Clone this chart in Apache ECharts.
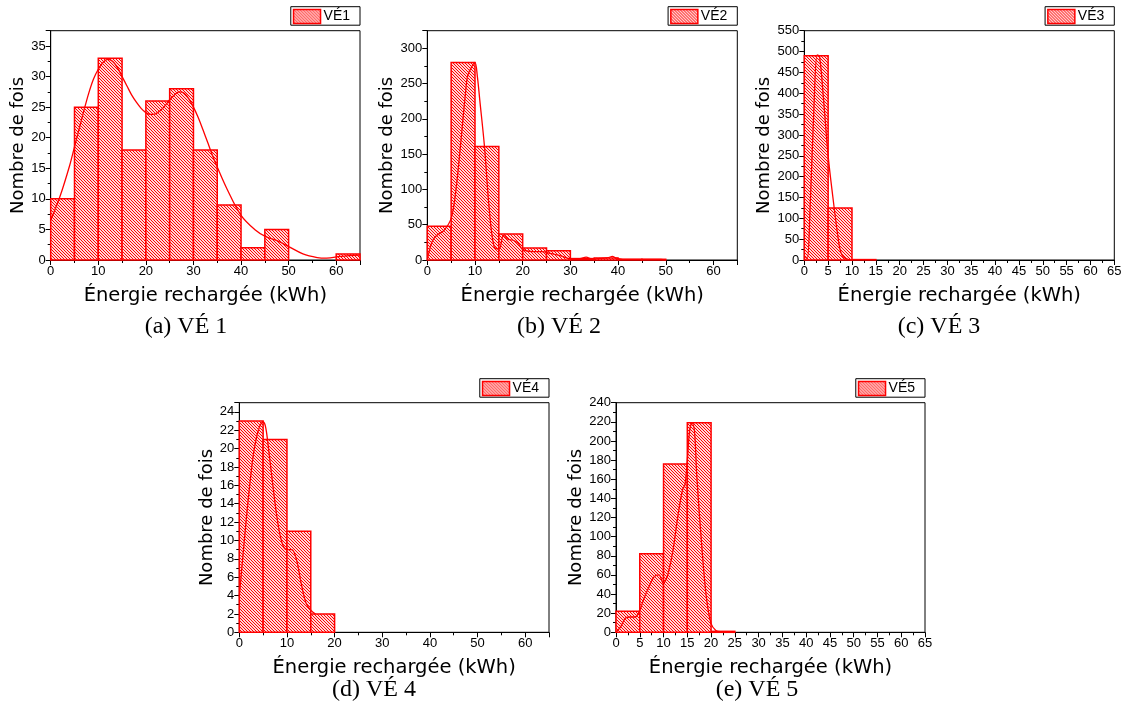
<!DOCTYPE html>
<html>
<head>
<meta charset="utf-8">
<script src="https://cdn.jsdelivr.net/npm/echarts@6/dist/echarts.min.js"></script>
<style>
html,body{margin:0;padding:0;background:#fff;}
#main{width:1129px;height:722px;}
</style>
</head>
<body>
<div id="main"></div>
<script>
// ---------- DATA ----------
const binWidth = 5;
const binStarts = [0, 5, 10, 15, 20, 25, 30, 35, 40, 45, 50, 55, 60];

const ve1Counts = [10, 25, 33, 18, 26, 28, 18, 9, 2, 5, 0, 0, 1];
const ve2Counts = [48, 280, 161, 37, 17, 13, 2, 3, 1, 1, 0, 0, 0];
const ve3Counts = [490, 125, 1, 0, 0, 0, 0, 0, 0, 0, 0, 0, 0];
const ve4Counts = [23, 21, 11, 2, 0, 0, 0, 0, 0, 0, 0, 0, 0];
const ve5Counts = [22, 82, 176, 219, 1, 0, 0, 0, 0, 0, 0, 0, 0];

const ve1CurveX = [0, 2, 4, 5, 6, 7, 8, 9, 10, 11, 12, 13, 14, 15, 16, 17, 18, 19, 20, 21, 22, 23, 24, 25, 26, 27, 28, 29, 30, 31, 32, 33, 34, 35, 37, 40, 43, 45, 48, 50, 53, 56, 58, 61, 65];
const ve1CurveY = [6.5, 10.5, 15.5, 18.5, 21.5, 24.5, 27.3, 29.6, 31.2, 32.3, 32.8, 32.5, 31.5, 30, 28.5, 27, 25.8, 24.8, 24.1, 23.8, 23.9, 24.4, 25.2, 26.2, 27, 27.5, 27.3, 26.4, 25, 23.3, 21.3, 19.2, 17.1, 15.2, 11.7, 7.3, 4.9, 3.9, 3.0, 2.2, 1.0, 0.4, 0.3, 0.6, 0.8];

const ve2CurveX = [0, 1, 2, 3.5, 5, 6, 7, 8, 8.5, 9.5, 10, 10.5, 11, 12, 13, 14, 15, 16, 17, 18, 19, 20, 22, 24, 26, 28, 30, 32, 33.3, 34.5, 36, 38, 38.8, 39.6, 41, 45, 49, 50];
const ve2CurveY = [0, 26, 35, 42, 59, 99, 165, 236, 262, 276, 280, 260, 227, 160, 71, 19, 15, 35, 29, 28, 24, 15, 12, 12, 9, 6, 2, 2, 4, 1.5, 2, 3.5, 5, 2.5, 1, 1, 1, 0];

const ve3CurveX = [0, 0.6, 1.2, 2, 2.7, 3.2, 4, 5, 6, 7, 7.5, 8, 8.6, 9.3, 10];
const ve3CurveY = [10, 3, 120, 360, 492, 488, 390, 250, 150, 60, 25, 10, 4, 1, 0];

const ve4CurveX = [0, 1, 2, 3, 4, 5, 5.5, 6, 7, 8, 9, 10, 11, 12, 13, 14, 15, 16];
const ve4CurveY = [3.9, 9.7, 15.1, 19.5, 22, 22.9, 22.4, 20.6, 16.2, 12.2, 9.7, 9.0, 9.0, 7.9, 5.3, 3.2, 2.4, 2.0];

const ve5CurveX = [0, 1, 2, 3, 4, 5, 6, 7, 8, 9, 10, 10.5, 11, 12, 13, 14, 14.5, 15, 15.5, 16, 16.5, 17, 18, 19, 20, 21, 22, 25];
const ve5CurveY = [0, 6, 15, 16, 16, 23, 37, 48, 58, 60, 51, 55, 62, 86, 121, 149, 154, 180, 211, 219, 211, 163, 93, 37, 9, 2, 0.7, 0.5];

const seriesNames = ['VÉ1', 'VÉ2', 'VÉ3', 'VÉ4', 'VÉ5'];
const captions = ['(a) VÉ 1', '(b) VÉ 2', '(c) VÉ 3', '(d) VÉ 4', '(e) VÉ 5'];
const xAxisTitle = 'Énergie rechargée (kWh)';
const yAxisTitle = 'Nombre de fois';

// ---------- STYLE / LAYOUT ----------
const allCounts = [ve1Counts, ve2Counts, ve3Counts, ve4Counts, ve5Counts];
const allCurveX = [ve1CurveX, ve2CurveX, ve3CurveX, ve4CurveX, ve5CurveX];
const allCurveY = [ve1CurveY, ve2CurveY, ve3CurveY, ve4CurveY, ve5CurveY];

const panels = [
  {left: 50.7, top: 30.7, width: 309.3, height: 229.3, yMax: 37.5, yInt: 5, xInt: 10, nameGapY: 20.5, cap: [186, 327]},
  {left: 427.3, top: 30.7, width: 310, height: 229.3, yMax: 325, yInt: 50, xInt: 10, nameGapY: 24.5, cap: [559, 327]},
  {left: 804.3, top: 30.7, width: 310, height: 229.3, yMax: 550, yInt: 50, xInt: 5, nameGapY: 24.5, cap: [939, 327]},
  {left: 239.3, top: 402.7, width: 309.7, height: 229.6, yMax: 25, yInt: 2, xInt: 10, nameGapY: 17.5, cap: [374, 690]},
  {left: 616, top: 402.7, width: 309, height: 229.6, yMax: 240, yInt: 20, xInt: 5, nameGapY: 24.5, cap: [757, 690]}
];

const RED = '#ff0000';

// hatch pattern
function makeHatch() {
  const s = 3;
  const c = document.createElement('canvas');
  c.width = s; c.height = s;
  const ctx = c.getContext('2d');
  const img = ctx.createImageData(s, s);
  for (let y = 0; y < s; y++) {
    for (let x = 0; x < s; x++) {
      const i = (y * s + x) * 4;
      const on = ((x - y) % s + s) % s === 0;
      img.data[i] = 255;
      img.data[i + 1] = on ? 0 : 215;
      img.data[i + 2] = on ? 0 : 215;
      img.data[i + 3] = 255;
    }
  }
  ctx.putImageData(img, 0, 0);
  return {image: c, repeat: 'repeat'};
}
const hatch = makeHatch();

const grids = [], xAxes = [], yAxes = [], series = [], legends = [], graphics = [];

panels.forEach((p, i) => {
  grids.push({left: p.left, top: p.top, width: p.width, height: p.height,
    show: true, borderColor: '#000', borderWidth: 1, backgroundColor: 'transparent'});
  const tickFmt = (int) => (v) => (Math.abs(v / int - Math.round(v / int)) < 1e-9 ? String(v) : '');
  xAxes.push({
    gridIndex: i, type: 'value', min: 0, max: 65, interval: p.xInt,
    axisLine: {show: true, onZero: false, lineStyle: {color: '#000', width: 1}},
    axisTick: {show: true, inside: false, length: 5, lineStyle: {color: '#000'}},
    minorTick: {show: true, splitNumber: 2, length: 3, lineStyle: {color: '#000'}},
    splitLine: {show: false},
    axisLabel: {color: '#000', fontSize: 13, fontFamily: 'Liberation Sans, Arial, sans-serif', margin: 5,
      showMaxLabel: 65 % p.xInt === 0, formatter: tickFmt(p.xInt)},
    name: xAxisTitle, nameLocation: 'middle', nameGap: 26,
    nameTextStyle: {color: '#000', fontSize: 19.5, fontFamily: 'DejaVu Sans, sans-serif'}
  });
  yAxes.push({
    gridIndex: i, type: 'value', min: 0, max: p.yMax, interval: p.yInt,
    axisLine: {show: true, onZero: false, lineStyle: {color: '#000', width: 1}},
    axisTick: {show: true, inside: false, length: 5, lineStyle: {color: '#000'}},
    minorTick: {show: true, splitNumber: 2, length: 3, lineStyle: {color: '#000'}},
    splitLine: {show: false},
    axisLabel: {color: '#000', fontSize: 13, fontFamily: 'Liberation Sans, Arial, sans-serif', margin: 5,
      showMaxLabel: p.yMax % p.yInt === 0, formatter: tickFmt(p.yInt)},
    name: yAxisTitle, nameLocation: 'middle', nameGap: p.nameGapY,
    nameTextStyle: {color: '#000', fontSize: 18, fontFamily: 'DejaVu Sans, sans-serif'}
  });

  const binData = binStarts.map((s, k) => [s, s + binWidth, allCounts[i][k]]).filter(d => d[2] > 0);
  series.push({
    type: 'custom', name: seriesNames[i], xAxisIndex: i, yAxisIndex: i,
    data: binData,
    encode: {x: [0, 1], y: 2},
    itemStyle: {color: hatch, borderColor: RED, borderWidth: 1.5},
    renderItem: function (params, api) {
      const p0 = api.coord([api.value(0), api.value(2)]);
      const p1 = api.coord([api.value(1), 0]);
      return {type: 'rect',
        shape: {x: p0[0], y: p0[1], width: p1[0] - p0[0], height: p1[1] - p0[1]},
        style: {fill: hatch, stroke: RED, lineWidth: 1.5}};
    },
    z: 2
  });
  series.push({
    type: 'line', name: seriesNames[i] + ' courbe', xAxisIndex: i, yAxisIndex: i,
    data: allCurveX[i].map((x, k) => [x, allCurveY[i][k]]),
    smooth: 0.35, showSymbol: false, symbol: 'none',
    lineStyle: {color: RED, width: 1.3}, itemStyle: {color: RED},
    z: 3, silent: true
  });

  legends.push({
    data: [{name: seriesNames[i], icon: 'rect', itemStyle: {color: hatch, borderColor: RED, borderWidth: 1.5}}],
    right: 1129 - (p.left + p.width), top: p.top - 24,
    orient: 'horizontal', backgroundColor: '#fff',
    borderColor: '#000', borderWidth: 1, borderRadius: 0,
    padding: [2, 10, 1, 2], itemWidth: 27, itemHeight: 14, itemGap: 4,
    textStyle: {color: '#000', fontSize: 14, fontFamily: 'Liberation Sans, Arial, sans-serif', padding: [0, 0, 0, -2]},
    selectedMode: false
  });

  graphics.push({
    type: 'text', left: p.cap[0], top: p.cap[1],
    style: {text: captions[i], fill: '#000', fontSize: 24, fontFamily: 'Liberation Serif, Times New Roman, serif',
      textAlign: 'center', textVerticalAlign: 'middle', align: 'center', verticalAlign: 'middle'}
  });
});

const chart = echarts.init(document.getElementById('main'), null, {renderer: 'canvas'});
chart.setOption({
  animation: false,
  backgroundColor: '#fff',
  grid: grids, xAxis: xAxes, yAxis: yAxes, series: series, legend: legends,
  graphic: graphics.map(g => ({type: 'text', x: g.left, y: g.top, style: g.style}))
});
</script>
</body>
</html>
